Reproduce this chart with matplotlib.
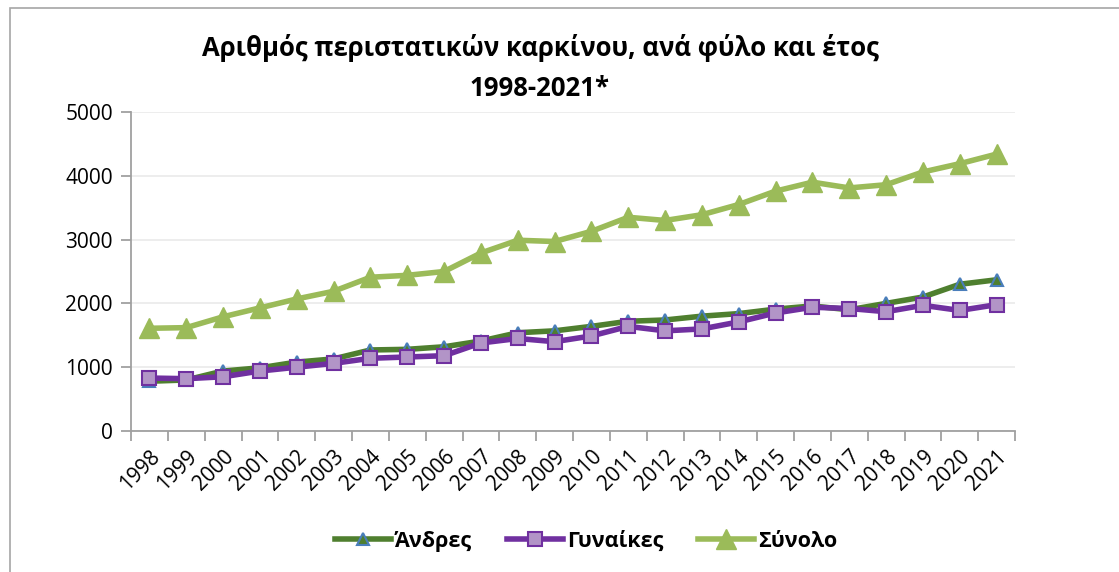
import numpy as np
import matplotlib.pyplot as plt
from matplotlib.patches import Rectangle

plt.rcParams['font.family'] = ['Open Sans', 'DejaVu Sans']

years = [str(y) for y in range(1998, 2022)]
andres = [780, 800, 940, 990, 1080, 1130, 1270, 1280, 1320, 1410, 1540, 1570,
          1640, 1720, 1740, 1800, 1840, 1910, 1960, 1900, 2000, 2100, 2300, 2370]
gynaikes = [830, 820, 850, 940, 1000, 1060, 1140, 1160, 1180, 1380, 1450, 1400,
            1490, 1640, 1570, 1600, 1710, 1850, 1940, 1920, 1870, 1970, 1890, 1980]
synolo = [1610, 1620, 1790, 1930, 2070, 2190, 2410, 2440, 2500, 2790, 2990, 2970,
          3130, 3350, 3300, 3390, 3550, 3760, 3900, 3810, 3860, 4060, 4190, 4340]

W, H = 1119, 572
fig = plt.figure(figsize=(W / 100, H / 100), dpi=100)
fig.patches.append(Rectangle((10 / W, -0.1), 1.2, 1 - 8 / H + 0.1, transform=fig.transFigure,
                             fill=False, edgecolor='#a6a6a6', linewidth=1.2))

ax = fig.add_axes([131 / W, 1 - 431 / H, (1015 - 131) / W, (431 - 112) / H])
x = np.arange(len(years))

ax.plot(x, andres, color='#4f7f2f', lw=4, marker='^', ms=9,
        mfc='#4f7f2f', mec='#4a7ebb', mew=1.5, label='Άνδρες', zorder=3)
ax.plot(x, gynaikes, color='#7030a0', lw=4, marker='s', ms=10,
        mfc='#b294c7', mec='#7030a0', mew=1.5, label='Γυναίκες', zorder=4)
ax.plot(x, synolo, color='#9bbb59', lw=4, marker='^', ms=14,
        mfc='#9bbb59', mec='#9bbb59', label='Σύνολο', zorder=3)

ax.set_xlim(-0.5, len(years) - 0.5)
ax.set_ylim(0, 5000)
ax.set_yticks(range(0, 5001, 1000))
ax.set_xticks(x)
ax.set_xticklabels(years, rotation=45, ha='right', rotation_mode='anchor', fontsize=15)
ax.set_xticks(np.arange(-0.5, len(years)), minor=True)
ax.tick_params(axis='x', which='major', length=0, pad=11)
ax.tick_params(axis='x', which='minor', length=7, color='#a0a0a0', width=1.3)
ax.tick_params(axis='y', length=7, color='#a0a0a0', width=1.3, labelsize=15, pad=6)
ax.grid(axis='y', color='#ececec', lw=1.3)
ax.set_axisbelow(True)
for s in ['top', 'right']:
    ax.spines[s].set_visible(False)
for s in ['left', 'bottom']:
    ax.spines[s].set_color('#a0a0a0')
    ax.spines[s].set_linewidth(1.3)

fig.text(540 / W, 1 - 48 / H, 'Αριθμός περιστατικών καρκίνου, ανά φύλο και έτος',
         ha='center', va='center', fontsize=18.5, fontweight='bold')
fig.text(540 / W, 1 - 88 / H, '1998-2021*', ha='center', va='center',
         fontsize=18.5, fontweight='bold')

fig.legend(loc='center', bbox_to_anchor=(586 / W, 1 - 541 / H), ncol=3, frameon=False,
           prop={'size': 15.5, 'weight': 'bold'}, handlelength=2.6, columnspacing=1.6,
           handletextpad=0.2)

fig.savefig('out.png', dpi=100)
